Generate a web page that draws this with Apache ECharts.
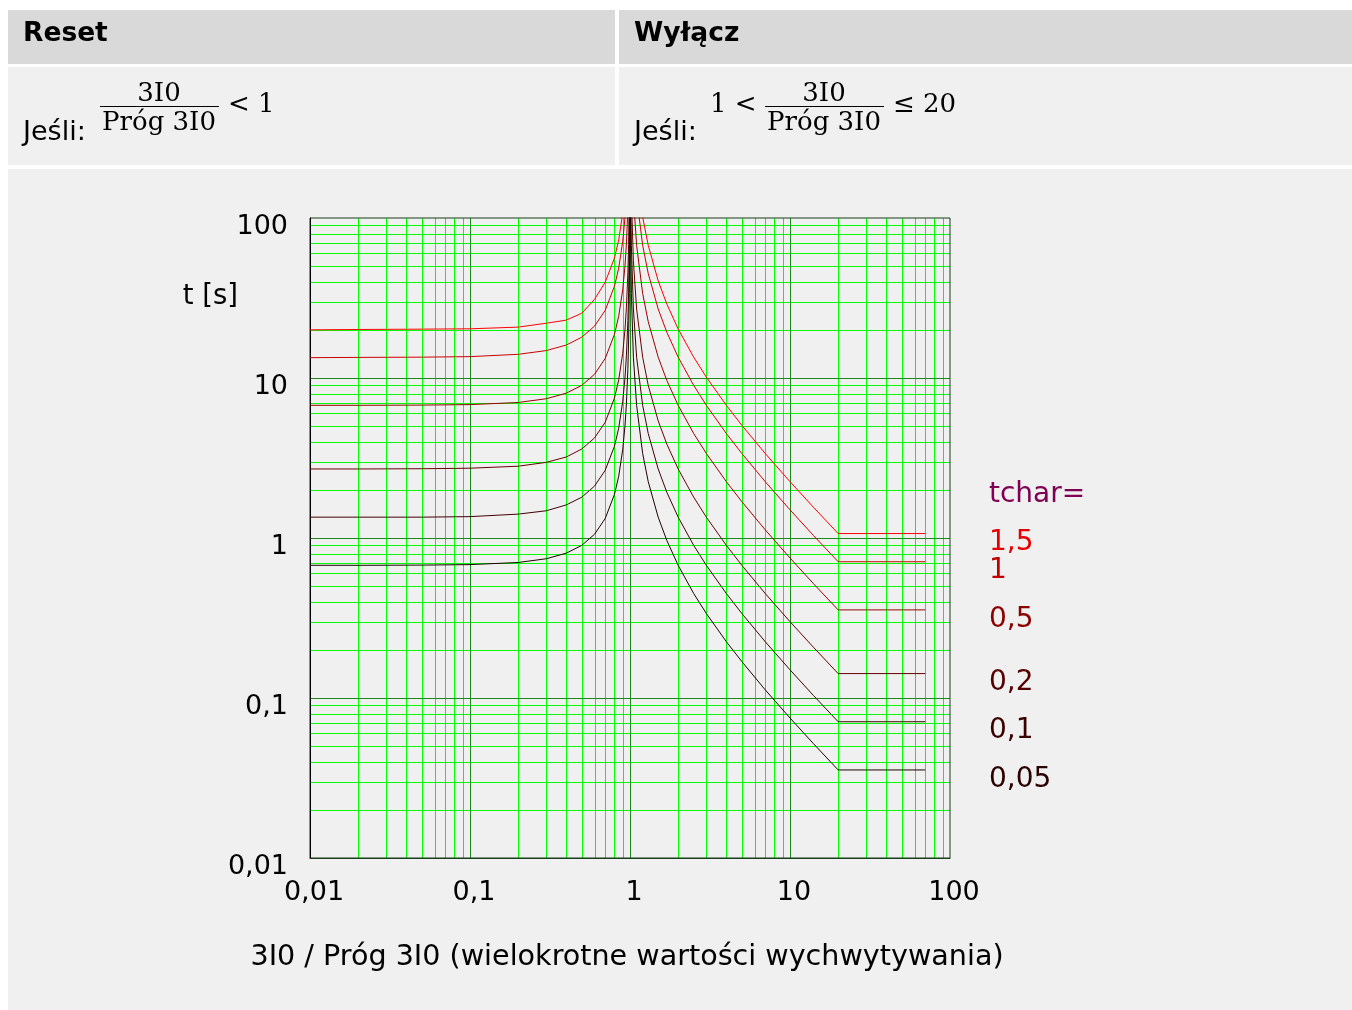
<!DOCTYPE html>
<html>
<head>
<meta charset="utf-8">
<script src="https://cdn.jsdelivr.net/npm/echarts@6/dist/echarts.min.js"></script>
<style>
html,body{margin:0;padding:0;background:#ffffff;}
#chart{width:1352px;height:1010px;}
</style>
</head>
<body>
<div id="chart"></div>
<script>
// ---- Data ----
const tcharLabels = ['1,5', '1', '0,5', '0,2', '0,1', '0,05'];
const curveColors = ['#ff0000', '#cc0000', '#990000', '#660000', '#3f0000', '#1f0000'];
const labelColors = ['#e60000', '#c00000', '#8b0000', '#550000', '#3a0000', '#2a0000'];

// Reset region (3I0/Próg < 1)
const resetX = [0.01, 0.02, 0.05, 0.1, 0.2, 0.3, 0.4, 0.5, 0.6, 0.7, 0.8, 0.85, 0.9, 0.93, 0.95, 0.97, 0.98, 0.99, 0.995, 0.998];
const reset15 = [20.0, 20.1, 20.2, 20.3, 20.8, 22.0, 23.0, 25.4, 31.0, 39.7, 56.25, 72.97, 106.6, 149.9, 207.7, 342.6, 511.4, 1017.6, 2030, 5068];
const reset10 = [13.40, 13.45, 13.5, 13.6, 14.06, 14.84, 16.07, 18.0, 21.09, 26.47, 37.5, 48.65, 71.05, 99.93, 138.5, 228.4, 340.9, 678.4, 1353, 3378];
const reset05 = [6.75, 6.75, 6.77, 6.82, 7.03, 7.42, 8.04, 9.0, 10.55, 13.24, 18.75, 24.32, 35.53, 49.96, 69.23, 114.2, 170.5, 339.2, 676.7, 1689];
const reset02 = [2.70, 2.70, 2.71, 2.73, 2.81, 2.97, 3.21, 3.60, 4.22, 5.29, 7.50, 9.73, 14.21, 19.98, 27.69, 45.68, 68.18, 135.7, 270.7, 675.7];
const reset01 = [1.35, 1.35, 1.35, 1.36, 1.41, 1.48, 1.61, 1.80, 2.11, 2.65, 3.75, 4.86, 7.11, 9.99, 13.85, 22.84, 34.09, 67.84, 135.3, 337.8];
const reset005 = [0.675, 0.675, 0.677, 0.682, 0.703, 0.742, 0.804, 0.90, 1.055, 1.324, 1.875, 2.432, 3.553, 4.996, 6.923, 11.42, 17.05, 33.92, 67.67, 168.9];

// Trip region (1 < 3I0/Próg <= 20, then constant)
const tripX = [1.002, 1.005, 1.01, 1.02, 1.05, 1.1, 1.2, 1.3, 1.5, 1.7, 2, 2.5, 3, 4, 5, 7, 10, 14, 20, 70];
const trip15 = [10125, 4050, 2025, 1012.5, 405, 202.5, 101.25, 67.5, 40.5, 28.93, 20.25, 13.5, 10.125, 6.75, 5.0625, 3.375, 2.25, 1.558, 1.066, 1.066];
const trip10 = [6750, 2700, 1350, 675, 270, 135, 67.5, 45, 27, 19.29, 13.5, 9.0, 6.75, 4.5, 3.375, 2.25, 1.5, 1.038, 0.7105, 0.7105];
const trip05 = [3375, 1350, 675, 337.5, 135, 67.5, 33.75, 22.5, 13.5, 9.643, 6.75, 4.5, 3.375, 2.25, 1.6875, 1.125, 0.75, 0.519, 0.3553, 0.3553];
const trip02 = [1350, 540, 270, 135, 54, 27, 13.5, 9.0, 5.4, 3.857, 2.7, 1.8, 1.35, 0.9, 0.675, 0.45, 0.3, 0.2077, 0.1421, 0.1421];
const trip01 = [675, 270, 135, 67.5, 27, 13.5, 6.75, 4.5, 2.7, 1.929, 1.35, 0.9, 0.675, 0.45, 0.3375, 0.225, 0.15, 0.1038, 0.07105, 0.07105];
const trip005 = [337.5, 135, 67.5, 33.75, 13.5, 6.75, 3.375, 2.25, 1.35, 0.964, 0.675, 0.45, 0.3375, 0.225, 0.169, 0.1125, 0.075, 0.0519, 0.0355, 0.0355];

// Axis ticks / grid
const xTickValues = [0.01, 0.1, 1, 10, 100];
const xTickLabels = ['0,01', '0,1', '1', '10', '100'];
const yTickValues = [0.01, 0.1, 1, 10, 100];
const yTickLabels = ['0,01', '0,1', '1', '10', '100'];
const majorGrid = [0.1, 1, 10];
const minorGrid = [0.02, 0.03, 0.04, 0.05, 0.06, 0.07, 0.08, 0.09,
                   0.2, 0.3, 0.4, 0.5, 0.6, 0.7, 0.8, 0.9,
                   2, 3, 4, 5, 6, 7, 8, 9,
                   20, 30, 40, 50, 60, 70, 80, 90];

// ---- Build ----
const resetSets = [reset15, reset10, reset05, reset02, reset01, reset005];
const tripSets = [trip15, trip10, trip05, trip02, trip01, trip005];
const zip = (xs, ys) => xs.map((x, i) => [x, ys[i]]);
const AX_MIN = xTickValues[0], AX_MAX = xTickValues[xTickValues.length - 1];
function labelFor(values, labels, rich) {
  return function (v) {
    for (let i = 0; i < values.length; i++) {
      if (Math.abs(Math.log10(values[i]) - Math.log10(v)) < 1e-6) return rich ? '{a|' + labels[i] + '}' : labels[i];
    }
    return '';
  };
}

const FONT = 'DejaVu Sans';
// Grid lines drawn through the axes' scales (api.coord), snapped to whole pixels
function gridLines(vals, color, z) {
  return {
    type: 'custom', coordinateSystem: 'cartesian2d', silent: true, z: z, clip: false,
    animation: false,
    data: vals.map(v => [v, v]),
    renderItem: function (params, api) {
      const v = api.value(0);
      const pv = api.coord([v, AX_MIN]);
      const pTop = api.coord([v, AX_MAX]);
      const ph = api.coord([AX_MIN, v]);
      const pRight = api.coord([AX_MAX, v]);
      const x = Math.round(pv[0]) + 0.5;
      const y = Math.round(ph[1]) + 0.5;
      return {
        type: 'group',
        children: [
          { type: 'line', shape: { x1: x, y1: pTop[1], x2: x, y2: pv[1] }, style: { stroke: color, lineWidth: 1 } },
          { type: 'line', shape: { x1: ph[0], y1: y, x2: pRight[0], y2: y }, style: { stroke: color, lineWidth: 1 } }
        ]
      };
    }
  };
}
const series = [gridLines(minorGrid, '#00ff00', 1), gridLines(majorGrid, '#1a8a1a', 2)];
for (let i = 0; i < 6; i++) {
  series.push({
    name: 'reset ' + tcharLabels[i], type: 'line', z: 5,
    data: zip(resetX, resetSets[i]),
    showSymbol: false, symbol: 'none', clip: true,
    lineStyle: { color: curveColors[i], width: 1 }
  });
  series.push({
    name: 'trip ' + tcharLabels[i], type: 'line', z: 5,
    data: zip(tripX, tripSets[i]),
    showSymbol: false, symbol: 'none', clip: true,
    lineStyle: { color: curveColors[i], width: 1 }
  });
}

const graphics = [
  { type: 'rect', z: -10, shape: { x: 8, y: 10, width: 607, height: 54 }, style: { fill: '#d9d9d9' } },
  { type: 'rect', z: -10, shape: { x: 619, y: 10, width: 733, height: 54 }, style: { fill: '#d9d9d9' } },
  { type: 'rect', z: -10, shape: { x: 8, y: 67, width: 607, height: 98 }, style: { fill: '#f0f0f0' } },
  { type: 'rect', z: -10, shape: { x: 619, y: 67, width: 733, height: 98 }, style: { fill: '#f0f0f0' } },
  { type: 'rect', z: -10, shape: { x: 8, y: 169, width: 1344, height: 841 }, style: { fill: '#f0f0f0' } },
  { type: 'text', x: 23, y: 34, style: { text: 'Reset', font: 'bold 26.5px "DejaVu Sans"', fill: '#000', verticalAlign: 'middle' } },
  { type: 'text', x: 634, y: 34, style: { text: 'Wyłącz', font: 'bold 26.5px "DejaVu Sans"', fill: '#000', verticalAlign: 'middle' } },
  // Reset condition
  { type: 'text', x: 23, y: 133, style: { text: 'Jeśli:', font: '27px "DejaVu Sans"', fill: '#000', verticalAlign: 'middle' } },
  { type: 'text', x: 159, y: 94, style: { text: '3I0', font: '26px "DejaVu Serif"', fill: '#000', align: 'center', verticalAlign: 'middle' } },
  { type: 'line', shape: { x1: 100, y1: 106.5, x2: 219, y2: 106.5 }, style: { stroke: '#000', lineWidth: 1 } },
  { type: 'text', x: 159, y: 123, style: { text: 'Próg 3I0', font: '26px "DejaVu Serif"', fill: '#000', align: 'center', verticalAlign: 'middle' } },
  { type: 'text', x: 228, y: 105, style: { text: '< 1', font: '26px "DejaVu Serif"', fill: '#000', verticalAlign: 'middle' } },
  // Trip condition
  { type: 'text', x: 634, y: 133, style: { text: 'Jeśli:', font: '27px "DejaVu Sans"', fill: '#000', verticalAlign: 'middle' } },
  { type: 'text', x: 710, y: 105, style: { text: '1 <', font: '26px "DejaVu Serif"', fill: '#000', verticalAlign: 'middle' } },
  { type: 'text', x: 824, y: 94, style: { text: '3I0', font: '26px "DejaVu Serif"', fill: '#000', align: 'center', verticalAlign: 'middle' } },
  { type: 'line', shape: { x1: 765, y1: 106.5, x2: 884, y2: 106.5 }, style: { stroke: '#000', lineWidth: 1 } },
  { type: 'text', x: 824, y: 123, style: { text: 'Próg 3I0', font: '26px "DejaVu Serif"', fill: '#000', align: 'center', verticalAlign: 'middle' } },
  { type: 'text', x: 893, y: 105, style: { text: '≤ 20', font: '26px "DejaVu Serif"', fill: '#000', verticalAlign: 'middle' } },
  // Axis titles
  { type: 'text', x: 238, y: 297, style: { text: 't [s]', font: '27.5px "DejaVu Sans"', fill: '#000', align: 'right', verticalAlign: 'middle' } },
  { type: 'text', x: 627, y: 958, style: { text: '3I0 / Próg 3I0 (wielokrotne wartości wychwytywania)', font: '28.6px "DejaVu Sans"', fill: '#000', align: 'center', verticalAlign: 'middle' } },
  { type: 'text', x: 989, y: 495, style: { text: 'tchar=', font: '28px "DejaVu Sans"', fill: '#800055', verticalAlign: 'middle' } }
];
const labelYs = [543, 571, 620, 683, 731, 780];
for (let i = 0; i < 6; i++) {
  graphics.push({ type: 'text', x: 989, y: labelYs[i], style: { text: tcharLabels[i], font: '28px "DejaVu Sans"', fill: labelColors[i], verticalAlign: 'middle' } });
}

const option = {
  animation: false,
  backgroundColor: '#ffffff',
  grid: { left: 310, top: 218, width: 640, height: 640, show: true, borderColor: '#1a3d1a', borderWidth: 1, backgroundColor: 'transparent', z: 3 },
  xAxis: {
    type: 'log', logBase: 10, min: AX_MIN, max: AX_MAX,
    axisLine: { show: true, onZero: false, lineStyle: { color: '#1a3d1a', width: 1 } },
    axisTick: { show: false },
    minorTick: { show: false },
    minorSplitLine: { show: false },
    splitArea: { show: false },
    splitLine: { show: false },
    axisLabel: { formatter: labelFor(xTickValues, xTickLabels, false), fontFamily: FONT, fontSize: 27, color: '#000', margin: 21, padding: [0, 0, 0, 8] },
    z: 4
  },
  yAxis: {
    type: 'log', logBase: 10, min: AX_MIN, max: AX_MAX,
    axisLine: { show: true, onZero: false, lineStyle: { color: '#000', width: 1 } },
    axisTick: { show: false },
    minorTick: { show: false },
    minorSplitLine: { show: false },
    splitArea: { show: false },
    splitLine: { show: false },
    axisLabel: {
      formatter: labelFor(yTickValues, yTickLabels, true), margin: 22,
      rich: { a: { fontFamily: FONT, fontSize: 27, color: '#000', padding: [18, 0, 0, 0] } }
    },
    z: 4
  },
  graphic: graphics,
  series: series
};

const chart = echarts.init(document.getElementById('chart'), null, { renderer: 'canvas' });
chart.setOption(option);
</script>
</body>
</html>
